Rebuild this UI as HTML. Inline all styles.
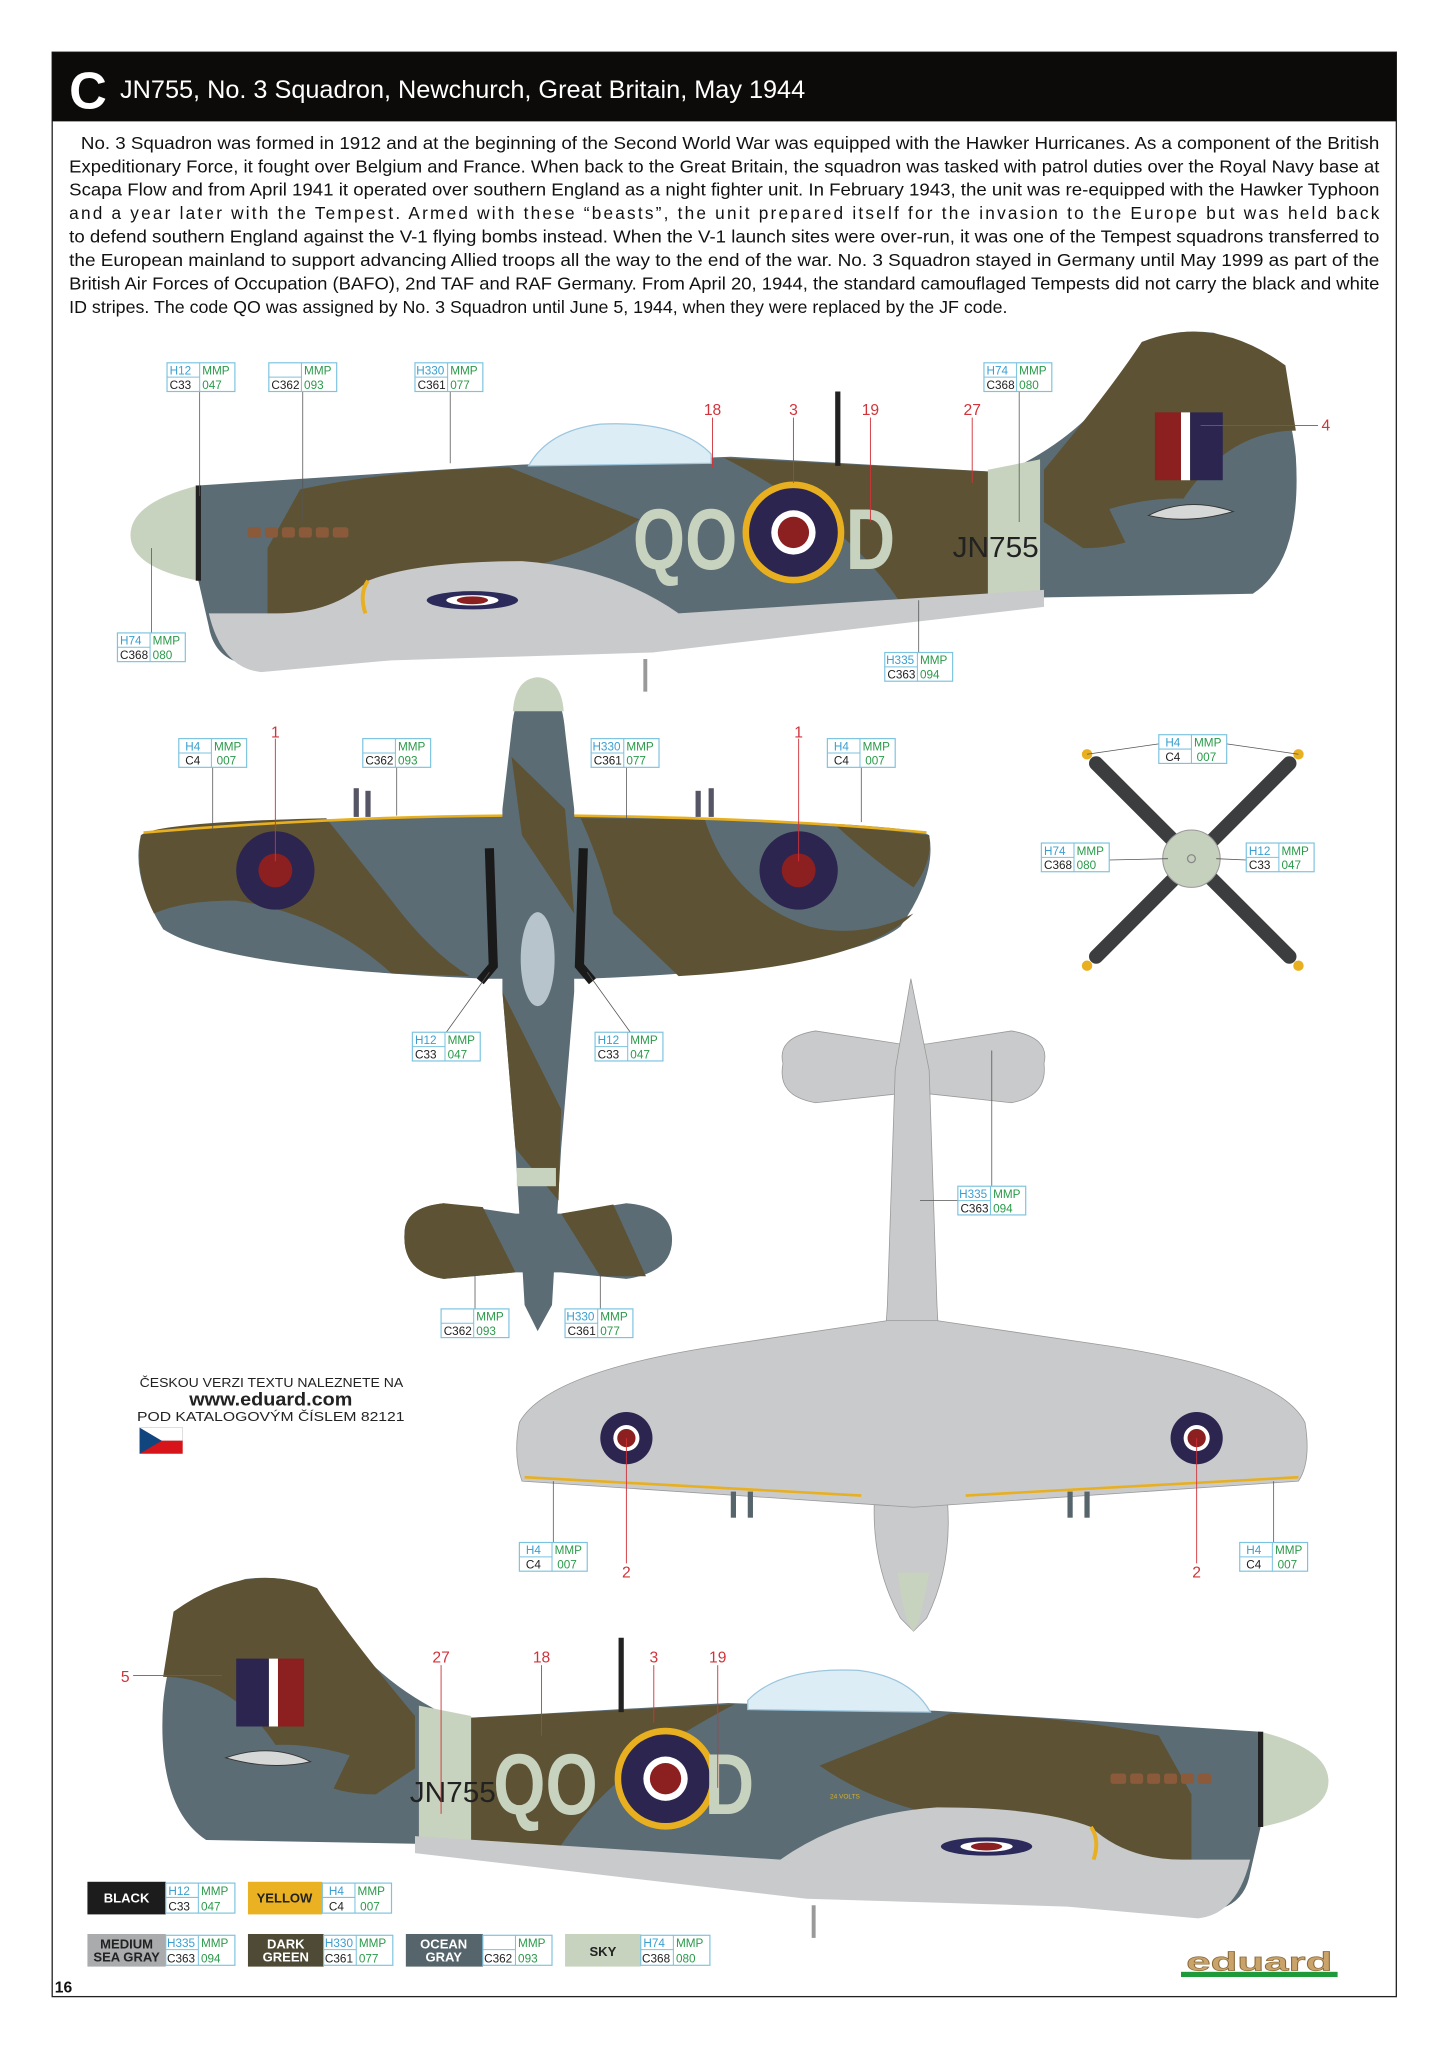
<!DOCTYPE html>
<html><head><meta charset="utf-8"><style>
html,body{margin:0;padding:0;background:#fff;width:1448px;height:2047px;overflow:hidden}
svg{display:block}
.cb{fill:#fff;stroke:#7cc3df;stroke-width:0.9}
.cl{stroke:#7cc3df;stroke-width:0.8}
.tb{fill:#3a9fd0;font:9px "Liberation Sans",sans-serif}
.tg{fill:#2a9a4a;font:9px "Liberation Sans",sans-serif}
.tk{fill:#222;font:9px "Liberation Sans",sans-serif}
.rn{fill:#d0333a;font:12px "Liberation Sans",sans-serif;text-anchor:middle}
.rl{stroke:#d0333a;stroke-width:0.7}
.ld{stroke:#555;stroke-width:0.6}
.p{font:13.2px "Liberation Sans",sans-serif;fill:#111}
.og{fill:#5b6c74}.dg{fill:#5d5233}.sky{fill:#c8d3bf}.lg{fill:#c9cacb}
</style></head><body>
<svg width="1448" height="2047" viewBox="0 0 1109.6 1568.6" xmlns="http://www.w3.org/2000/svg">
<rect x="40" y="40" width="1030" height="1490" fill="#fff" stroke="#222" stroke-width="1"/>
<rect x="40" y="40" width="1030" height="53" fill="#0d0b09"/>
<text x="53" y="83" fill="#fff" font-family="Liberation Sans,sans-serif" font-weight="bold" font-size="40">C</text>
<text x="92" y="75" fill="#fff" font-family="Liberation Sans,sans-serif" font-size="19" textLength="525" lengthAdjust="spacingAndGlyphs">JN755, No. 3 Squadron, Newchurch, Great Britain, May 1944</text>

<g class="p">
<text x="62" y="114" textLength="995" lengthAdjust="spacingAndGlyphs">No. 3 Squadron was formed in 1912 and at the beginning of the Second World War was equipped with the Hawker Hurricanes. As a component of the British</text>
<text x="53" y="132" textLength="1004" lengthAdjust="spacingAndGlyphs">Expeditionary Force, it fought over Belgium and France. When back to the Great Britain, the squadron was tasked with patrol duties over the Royal Navy base at</text>
<text x="53" y="150" textLength="1004" lengthAdjust="spacingAndGlyphs">Scapa Flow and from April 1941 it operated over southern England as a night fighter unit. In February 1943, the unit was re-equipped with the Hawker Typhoon</text>
<text x="53" y="168" textLength="1004" lengthAdjust="spacing">and a year later with the Tempest. Armed with these “beasts”, the unit prepared itself for the invasion to the Europe but was held back</text>
<text x="53" y="186" textLength="1004" lengthAdjust="spacingAndGlyphs">to defend southern England against the V-1 flying bombs instead. When the V-1 launch sites were over-run, it was one of the Tempest squadrons transferred to</text>
<text x="53" y="204" textLength="1004" lengthAdjust="spacingAndGlyphs">the European mainland to support advancing Allied troops all the way to the end of the war. No. 3 Squadron stayed in Germany until May 1999 as part of the</text>
<text x="53" y="222" textLength="1004" lengthAdjust="spacingAndGlyphs">British Air Forces of Occupation (BAFO), 2nd TAF and RAF Germany. From April 20, 1944, the standard camouflaged Tempests did not carry the black and white</text>
<text x="53" y="240" textLength="719" lengthAdjust="spacingAndGlyphs">ID stripes. The code QO was assigned by No. 3 Squadron until June 5, 1944, when they were replaced by the JF code.</text>
</g>

<defs>
<g id="side">
<path class="og" d="M152 372 L400 356 L560 350 L770 362 Q840 330 870 270 Q890 250 930 255 Q985 270 993 350 Q998 430 960 455 L790 458 L500 490 L300 500 L200 510 Q165 510 160 480 L152 445 Z"/>
<path class="dg" d="M800 360 Q850 300 875 262 Q930 240 985 280 L993 330 Q940 330 905 385 Q880 420 830 420 L800 400 Z"/>
<path class="dg" d="M230 375 Q300 360 390 358 L490 398 Q430 440 340 442 Q270 452 230 500 L205 505 L205 420 Z"/>
<path class="dg" d="M555 351 L770 362 L765 455 L690 462 Q650 400 555 351 Z"/>
<path class="og" d="M850 390 Q920 370 960 400 L958 450 L880 452 Z"/>
<path class="sky" d="M757 360 L797 352 L797 460 L757 463 Z"/>
<path class="sky" d="M152 372 Q100 385 100 410 Q100 435 152 445 Z"/>
<rect x="150" y="372" width="4" height="73" fill="#222"/>
<path class="lg" d="M160 470 Q170 512 200 515 L300 506 L500 500 L800 465 L800 452 L520 470 Q470 435 400 430 Q320 430 282 445 Q255 470 212 470 Z"/>
<path d="M282 445 Q275 455 280 470" stroke="#e8b020" stroke-width="3" fill="none"/>
<ellipse cx="362" cy="460" rx="35" ry="7" fill="#2b2a5a"/><ellipse cx="362" cy="460" rx="20" ry="4" fill="#fff"/><ellipse cx="362" cy="460" rx="12" ry="3" fill="#8c1f1f"/>
<path d="M405 357 Q420 330 460 325 Q520 322 545 348 L545 355 Z" fill="#dcedf5" stroke="#9cc6de" stroke-width="1"/>
<rect x="640" y="300" width="4" height="57" fill="#222"/>
<rect x="493" y="505" width="3" height="25" fill="#999"/>
<g fill="#8a5a3a"><rect x="190" y="404" width="10" height="8" rx="2"/><rect x="203" y="404" width="10" height="8" rx="2"/><rect x="216" y="404" width="10" height="8" rx="2"/><rect x="229" y="404" width="10" height="8" rx="2"/><rect x="242" y="404" width="10" height="8" rx="2"/><rect x="255" y="404" width="12" height="8" rx="2"/></g>
<path d="M880 395 Q910 380 945 392 Q910 402 880 395 Z" fill="#d6d8d8" stroke="#333" stroke-width="0.7"/>
<circle cx="608" cy="408" r="39" fill="#e8b020"/><circle cx="608" cy="408" r="34" fill="#2b2550"/><circle cx="608" cy="408" r="17" fill="#fff"/><circle cx="608" cy="408" r="12" fill="#8c1f1f"/>
<rect x="885" y="316" width="20" height="52" fill="#8c1f1f"/><rect x="905" y="316" width="7" height="52" fill="#fff"/><rect x="912" y="316" width="25" height="52" fill="#2b2550"/>
</g>
</defs>
<use href="#side"/>
<g transform="translate(1118,955) scale(-1,1)"><use href="#side"/></g>

<g font-family="Liberation Sans,sans-serif" font-weight="bold" fill="#c8d3bf" font-size="66">
<text x="485" y="436" textLength="80" lengthAdjust="spacingAndGlyphs">QO</text><text x="648" y="436" textLength="38" lengthAdjust="spacingAndGlyphs">D</text>
<text x="378" y="1390" textLength="80" lengthAdjust="spacingAndGlyphs">QO</text><text x="540" y="1390" textLength="38" lengthAdjust="spacingAndGlyphs">D</text>
</g>
<text x="730" y="427" font-family="Liberation Sans,sans-serif" font-size="22" fill="#222" textLength="66" lengthAdjust="spacingAndGlyphs">JN755</text>
<text x="314" y="1381" font-family="Liberation Sans,sans-serif" font-size="22" fill="#222" textLength="66" lengthAdjust="spacingAndGlyphs">JN755</text>
<text x="636" y="1378" font-family="Liberation Sans,sans-serif" font-size="5" fill="#d8b020">24 VOLTS</text>

<!-- top view -->
<path class="og" d="M108 640 Q120 630 380 625 L445 625 Q700 630 712 640 Q718 670 690 710 Q650 742 450 750 L375 750 Q170 742 125 712 Q100 672 108 640 Z"/>
<path class="dg" d="M108 640 Q120 630 250 627 L300 690 Q330 730 360 748 L300 746 Q250 700 180 690 Q140 690 118 700 Q103 670 108 640 Z"/>
<path class="dg" d="M445 627 L540 628 Q560 690 620 710 Q660 720 700 700 Q660 740 520 748 L470 700 Q460 660 445 627 Z"/>
<path class="dg" d="M640 632 L712 640 Q715 660 700 680 Q670 660 640 632 Z"/>
<path d="M110 638 Q250 626 385 625 M440 625 Q600 627 710 638" stroke="#e8b020" stroke-width="2" fill="none"/>
<path class="og" d="M412 522 Q395 525 392 560 L385 620 L385 760 L395 880 L402 1000 L412 1020 L423 1000 L430 880 L440 760 L440 620 L433 560 Q430 525 412 522 Z"/>
<path class="dg" d="M392 580 L433 620 L440 700 L400 640 Z M385 760 L430 850 L428 920 L395 880 Z"/>
<path class="sky" d="M393 545 Q395 520 412 519 Q430 520 432 545 Z"/>
<rect x="396" y="895" width="30" height="14" class="sky"/>
<path class="og" d="M310 945 Q310 925 340 922 L395 930 L430 930 L480 922 Q515 925 515 950 Q515 975 480 980 L430 975 L395 975 L340 980 Q308 975 310 945 Z"/>
<path class="dg" d="M310 945 Q310 925 340 922 L370 925 L395 975 L340 980 Q308 975 310 945 Z M430 930 L470 923 L495 978 L460 978 Z"/>
<path d="M375 650 L378 740 L368 752 M447 650 L444 740 L454 752" stroke="#1a1a1a" stroke-width="7" fill="none"/>
<ellipse cx="412" cy="735" rx="13" ry="36" fill="#b8c4cc"/>
<circle cx="211" cy="667" r="30" fill="#2b2550"/><circle cx="211" cy="667" r="13" fill="#8c1f1f"/>
<circle cx="612" cy="667" r="30" fill="#2b2550"/><circle cx="612" cy="667" r="13" fill="#8c1f1f"/>
<rect x="271" y="604" width="4" height="22" fill="#556"/><rect x="280" y="606" width="4" height="20" fill="#556"/><rect x="533" y="606" width="4" height="20" fill="#556"/><rect x="543" y="604" width="4" height="22" fill="#556"/>

<!-- propeller -->
<g stroke="#3b3d3f" stroke-width="11" stroke-linecap="round"><line x1="840" y1="585" x2="988" y2="733"/><line x1="988" y1="585" x2="840" y2="733"/></g>
<g fill="#e8b020"><circle cx="833" cy="578" r="4"/><circle cx="995" cy="578" r="4"/><circle cx="833" cy="740" r="4"/><circle cx="995" cy="740" r="4"/></g>
<circle cx="913" cy="658" r="22" fill="#c5d0bd" stroke="#999" stroke-width="0.8"/><circle cx="913" cy="658" r="3" fill="none" stroke="#888"/>

<!-- bottom view -->
<path class="lg" d="M600 815 Q595 795 625 790 L690 800 L710 800 L775 790 Q805 795 800 815 Q803 840 775 845 L710 838 L690 838 L625 845 Q595 840 600 815Z" stroke="#999" stroke-width="0.6"/>
<path class="lg" d="M698 750 L686 820 L680 1000 L670 1150 Q668 1200 690 1240 L700 1250 L710 1240 Q730 1200 726 1150 L718 1000 L712 820 Z" stroke="#999" stroke-width="0.6"/>
<path class="lg" d="M398 1090 Q420 1050 560 1030 L680 1012 L718 1012 L840 1030 Q980 1050 1000 1090 Q1005 1120 995 1135 L700 1155 L400 1135 Q393 1115 398 1090Z" stroke="#999" stroke-width="0.6"/>
<path d="M402 1132 L660 1146 M740 1146 L995 1132" stroke="#e8b020" stroke-width="2"/>
<path class="sky" d="M688 1205 L712 1205 Q705 1245 700 1250 Q693 1245 688 1205Z"/>
<circle cx="480" cy="1102" r="20" fill="#2b2550"/><circle cx="480" cy="1102" r="10" fill="#fff"/><circle cx="480" cy="1102" r="7" fill="#8c1f1f"/>
<circle cx="917" cy="1102" r="20" fill="#2b2550"/><circle cx="917" cy="1102" r="10" fill="#fff"/><circle cx="917" cy="1102" r="7" fill="#8c1f1f"/>
<g fill="#56656b"><rect x="560" y="1143" width="4" height="20"/><rect x="573" y="1143" width="4" height="20"/><rect x="818" y="1143" width="4" height="20"/><rect x="831" y="1143" width="4" height="20"/></g>

<!-- leader lines -->
<g class="ld">
<line x1="153" y1="300" x2="153" y2="380"/><line x1="232" y1="300" x2="232" y2="400"/><line x1="345" y1="300" x2="345" y2="355"/><line x1="781" y1="300" x2="781" y2="400"/><line x1="116" y1="485" x2="116" y2="420"/><line x1="704" y1="500" x2="704" y2="460"/>
<line x1="163" y1="588" x2="163" y2="635"/><line x1="304" y1="588" x2="304" y2="625"/><line x1="480" y1="588" x2="480" y2="628"/><line x1="660" y1="588" x2="660" y2="630"/>
<line x1="850" y1="659" x2="895" y2="658"/><line x1="955" y1="659" x2="932" y2="658"/><line x1="888" y1="570" x2="833" y2="578"/><line x1="940" y1="570" x2="995" y2="578"/>
<line x1="342" y1="791" x2="375" y2="745"/><line x1="483" y1="791" x2="450" y2="745"/><line x1="760" y1="909" x2="760" y2="805"/><line x1="734" y1="920" x2="705" y2="920"/>
<line x1="364" y1="1003" x2="364" y2="975"/><line x1="460" y1="1003" x2="460" y2="975"/><line x1="424" y1="1182" x2="424" y2="1135"/><line x1="976" y1="1182" x2="976" y2="1135"/>
</g>
<g class="rl">
<line x1="546" y1="320" x2="546" y2="358"/><line x1="608" y1="320" x2="608" y2="370"/><line x1="667" y1="320" x2="667" y2="400"/><line x1="745" y1="320" x2="745" y2="370"/><line x1="920" y1="326" x2="1010" y2="326"/>
<line x1="211" y1="566" x2="211" y2="660"/><line x1="612" y1="566" x2="612" y2="660"/><line x1="480" y1="1102" x2="480" y2="1198"/><line x1="917" y1="1102" x2="917" y2="1198"/>
<line x1="102" y1="1284" x2="170" y2="1284"/><line x1="338" y1="1276" x2="338" y2="1390"/><line x1="415" y1="1276" x2="415" y2="1330"/><line x1="501" y1="1276" x2="501" y2="1320"/><line x1="550" y1="1276" x2="550" y2="1370"/>
</g>
<g class="rn">
<text x="546" y="318">18</text><text x="608" y="318">3</text><text x="667" y="318">19</text><text x="745" y="318">27</text><text x="1016" y="330">4</text>
<text x="211" y="565">1</text><text x="612" y="565">1</text><text x="480" y="1209">2</text><text x="917" y="1209">2</text>
<text x="96" y="1289">5</text><text x="338" y="1274">27</text><text x="415" y="1274">18</text><text x="501" y="1274">3</text><text x="550" y="1274">19</text>
</g>

<!-- callouts -->
<g transform="translate(128,278)"><rect width="52" height="22" class="cb"/><line x1="25" y1="0" x2="25" y2="22" class="cl"/><line x1="0" y1="11" x2="25" y2="11" class="cl"/><text x="2" y="9" class="tb">H12</text><text x="27" y="9" class="tg">MMP</text><text x="2" y="20" class="tk">C33</text><text x="27" y="20" class="tg">047</text></g>
<g transform="translate(206,278)"><rect width="52" height="22" class="cb"/><line x1="25" y1="0" x2="25" y2="22" class="cl"/><line x1="0" y1="11" x2="25" y2="11" class="cl"/><text x="27" y="9" class="tg">MMP</text><text x="2" y="20" class="tk">C362</text><text x="27" y="20" class="tg">093</text></g>
<g transform="translate(318,278)"><rect width="52" height="22" class="cb"/><line x1="25" y1="0" x2="25" y2="22" class="cl"/><line x1="0" y1="11" x2="25" y2="11" class="cl"/><text x="1" y="9" class="tb">H330</text><text x="27" y="9" class="tg">MMP</text><text x="2" y="20" class="tk">C361</text><text x="27" y="20" class="tg">077</text></g>
<g transform="translate(754,278)"><rect width="52" height="22" class="cb"/><line x1="25" y1="0" x2="25" y2="22" class="cl"/><line x1="0" y1="11" x2="25" y2="11" class="cl"/><text x="2" y="9" class="tb">H74</text><text x="27" y="9" class="tg">MMP</text><text x="2" y="20" class="tk">C368</text><text x="27" y="20" class="tg">080</text></g>
<g transform="translate(90,485)"><rect width="52" height="22" class="cb"/><line x1="25" y1="0" x2="25" y2="22" class="cl"/><line x1="0" y1="11" x2="25" y2="11" class="cl"/><text x="2" y="9" class="tb">H74</text><text x="27" y="9" class="tg">MMP</text><text x="2" y="20" class="tk">C368</text><text x="27" y="20" class="tg">080</text></g>
<g transform="translate(678,500)"><rect width="52" height="22" class="cb"/><line x1="25" y1="0" x2="25" y2="22" class="cl"/><line x1="0" y1="11" x2="25" y2="11" class="cl"/><text x="1" y="9" class="tb">H335</text><text x="27" y="9" class="tg">MMP</text><text x="2" y="20" class="tk">C363</text><text x="27" y="20" class="tg">094</text></g>
<g transform="translate(137,566)"><rect width="52" height="22" class="cb"/><line x1="25" y1="0" x2="25" y2="22" class="cl"/><line x1="0" y1="11" x2="25" y2="11" class="cl"/><text x="5" y="9" class="tb">H4</text><text x="27" y="9" class="tg">MMP</text><text x="5" y="20" class="tk">C4</text><text x="29" y="20" class="tg">007</text></g>
<g transform="translate(278,566)"><rect width="52" height="22" class="cb"/><line x1="25" y1="0" x2="25" y2="22" class="cl"/><line x1="0" y1="11" x2="25" y2="11" class="cl"/><text x="27" y="9" class="tg">MMP</text><text x="2" y="20" class="tk">C362</text><text x="27" y="20" class="tg">093</text></g>
<g transform="translate(453,566)"><rect width="52" height="22" class="cb"/><line x1="25" y1="0" x2="25" y2="22" class="cl"/><line x1="0" y1="11" x2="25" y2="11" class="cl"/><text x="1" y="9" class="tb">H330</text><text x="27" y="9" class="tg">MMP</text><text x="2" y="20" class="tk">C361</text><text x="27" y="20" class="tg">077</text></g>
<g transform="translate(634,566)"><rect width="52" height="22" class="cb"/><line x1="25" y1="0" x2="25" y2="22" class="cl"/><line x1="0" y1="11" x2="25" y2="11" class="cl"/><text x="5" y="9" class="tb">H4</text><text x="27" y="9" class="tg">MMP</text><text x="5" y="20" class="tk">C4</text><text x="29" y="20" class="tg">007</text></g>
<g transform="translate(888,563)"><rect width="52" height="22" class="cb"/><line x1="25" y1="0" x2="25" y2="22" class="cl"/><line x1="0" y1="11" x2="25" y2="11" class="cl"/><text x="5" y="9" class="tb">H4</text><text x="27" y="9" class="tg">MMP</text><text x="5" y="20" class="tk">C4</text><text x="29" y="20" class="tg">007</text></g>
<g transform="translate(798,646)"><rect width="52" height="22" class="cb"/><line x1="25" y1="0" x2="25" y2="22" class="cl"/><line x1="0" y1="11" x2="25" y2="11" class="cl"/><text x="2" y="9" class="tb">H74</text><text x="27" y="9" class="tg">MMP</text><text x="2" y="20" class="tk">C368</text><text x="27" y="20" class="tg">080</text></g>
<g transform="translate(955,646)"><rect width="52" height="22" class="cb"/><line x1="25" y1="0" x2="25" y2="22" class="cl"/><line x1="0" y1="11" x2="25" y2="11" class="cl"/><text x="2" y="9" class="tb">H12</text><text x="27" y="9" class="tg">MMP</text><text x="2" y="20" class="tk">C33</text><text x="27" y="20" class="tg">047</text></g>
<g transform="translate(316,791)"><rect width="52" height="22" class="cb"/><line x1="25" y1="0" x2="25" y2="22" class="cl"/><line x1="0" y1="11" x2="25" y2="11" class="cl"/><text x="2" y="9" class="tb">H12</text><text x="27" y="9" class="tg">MMP</text><text x="2" y="20" class="tk">C33</text><text x="27" y="20" class="tg">047</text></g>
<g transform="translate(456,791)"><rect width="52" height="22" class="cb"/><line x1="25" y1="0" x2="25" y2="22" class="cl"/><line x1="0" y1="11" x2="25" y2="11" class="cl"/><text x="2" y="9" class="tb">H12</text><text x="27" y="9" class="tg">MMP</text><text x="2" y="20" class="tk">C33</text><text x="27" y="20" class="tg">047</text></g>
<g transform="translate(734,909)"><rect width="52" height="22" class="cb"/><line x1="25" y1="0" x2="25" y2="22" class="cl"/><line x1="0" y1="11" x2="25" y2="11" class="cl"/><text x="1" y="9" class="tb">H335</text><text x="27" y="9" class="tg">MMP</text><text x="2" y="20" class="tk">C363</text><text x="27" y="20" class="tg">094</text></g>
<g transform="translate(338,1003)"><rect width="52" height="22" class="cb"/><line x1="25" y1="0" x2="25" y2="22" class="cl"/><line x1="0" y1="11" x2="25" y2="11" class="cl"/><text x="27" y="9" class="tg">MMP</text><text x="2" y="20" class="tk">C362</text><text x="27" y="20" class="tg">093</text></g>
<g transform="translate(433,1003)"><rect width="52" height="22" class="cb"/><line x1="25" y1="0" x2="25" y2="22" class="cl"/><line x1="0" y1="11" x2="25" y2="11" class="cl"/><text x="1" y="9" class="tb">H330</text><text x="27" y="9" class="tg">MMP</text><text x="2" y="20" class="tk">C361</text><text x="27" y="20" class="tg">077</text></g>
<g transform="translate(398,1182)"><rect width="52" height="22" class="cb"/><line x1="25" y1="0" x2="25" y2="22" class="cl"/><line x1="0" y1="11" x2="25" y2="11" class="cl"/><text x="5" y="9" class="tb">H4</text><text x="27" y="9" class="tg">MMP</text><text x="5" y="20" class="tk">C4</text><text x="29" y="20" class="tg">007</text></g>
<g transform="translate(950,1182)"><rect width="52" height="22" class="cb"/><line x1="25" y1="0" x2="25" y2="22" class="cl"/><line x1="0" y1="11" x2="25" y2="11" class="cl"/><text x="5" y="9" class="tb">H4</text><text x="27" y="9" class="tg">MMP</text><text x="5" y="20" class="tk">C4</text><text x="29" y="20" class="tg">007</text></g>

<!-- czech note -->
<g font-family="Liberation Sans,sans-serif" fill="#222">
<text x="107" y="1063" font-size="10" textLength="202" lengthAdjust="spacingAndGlyphs">ČESKOU VERZI TEXTU NALEZNETE NA</text>
<text x="145" y="1077" font-size="14" font-weight="bold" textLength="125" lengthAdjust="spacingAndGlyphs">www.eduard.com</text>
<text x="105" y="1089" font-size="10" textLength="205" lengthAdjust="spacingAndGlyphs">POD KATALOGOVÝM ČÍSLEM 82121</text>
</g>
<rect x="107" y="1094" width="33" height="10" fill="#fff" stroke="#ccc" stroke-width="0.5"/><rect x="107" y="1104" width="33" height="10" fill="#d7141a"/><path d="M107 1094 L124 1104 L107 1114 Z" fill="#11457e"/>

<!-- legend -->
<g font-family="Liberation Sans,sans-serif" font-weight="bold" font-size="10" text-anchor="middle">
<rect x="67" y="1442" width="60" height="25" fill="#1c1c1c"/><text x="97" y="1458" fill="#fff">BLACK</text>
<rect x="190" y="1442" width="57" height="25" fill="#eab223"/><text x="218" y="1458" fill="#222">YELLOW</text>
<rect x="67" y="1482" width="60" height="25" fill="#a9abac"/><text x="97" y="1493" fill="#222">MEDIUM</text><text x="97" y="1503" fill="#222">SEA GRAY</text>
<rect x="190" y="1482" width="58" height="25" fill="#4f4a35"/><text x="219" y="1493" fill="#fff">DARK</text><text x="219" y="1503" fill="#fff">GREEN</text>
<rect x="311" y="1482" width="59" height="25" fill="#56656b"/><text x="340" y="1493" fill="#fff">OCEAN</text><text x="340" y="1503" fill="#fff">GRAY</text>
<rect x="433" y="1482" width="58" height="25" fill="#c8d3bf"/><text x="462" y="1499" fill="#222">SKY</text>
</g>
<g transform="translate(127,1443)"><rect width="53" height="23" class="cb"/><line x1="25" y1="0" x2="25" y2="23" class="cl"/><line x1="0" y1="11" x2="25" y2="11" class="cl"/><text x="2" y="9" class="tb">H12</text><text x="27" y="9" class="tg">MMP</text><text x="2" y="21" class="tk">C33</text><text x="27" y="21" class="tg">047</text></g>
<g transform="translate(247,1443)"><rect width="53" height="23" class="cb"/><line x1="25" y1="0" x2="25" y2="23" class="cl"/><line x1="0" y1="11" x2="25" y2="11" class="cl"/><text x="5" y="9" class="tb">H4</text><text x="27" y="9" class="tg">MMP</text><text x="5" y="21" class="tk">C4</text><text x="29" y="21" class="tg">007</text></g>
<g transform="translate(127,1483)"><rect width="53" height="23" class="cb"/><line x1="25" y1="0" x2="25" y2="23" class="cl"/><line x1="0" y1="11" x2="25" y2="11" class="cl"/><text x="1" y="9" class="tb">H335</text><text x="27" y="9" class="tg">MMP</text><text x="1" y="21" class="tk">C363</text><text x="27" y="21" class="tg">094</text></g>
<g transform="translate(248,1483)"><rect width="53" height="23" class="cb"/><line x1="25" y1="0" x2="25" y2="23" class="cl"/><line x1="0" y1="11" x2="25" y2="11" class="cl"/><text x="1" y="9" class="tb">H330</text><text x="27" y="9" class="tg">MMP</text><text x="1" y="21" class="tk">C361</text><text x="27" y="21" class="tg">077</text></g>
<g transform="translate(370,1483)"><rect width="53" height="23" class="cb"/><line x1="25" y1="0" x2="25" y2="23" class="cl"/><line x1="0" y1="11" x2="25" y2="11" class="cl"/><text x="27" y="9" class="tg">MMP</text><text x="1" y="21" class="tk">C362</text><text x="27" y="21" class="tg">093</text></g>
<g transform="translate(491,1483)"><rect width="53" height="23" class="cb"/><line x1="25" y1="0" x2="25" y2="23" class="cl"/><line x1="0" y1="11" x2="25" y2="11" class="cl"/><text x="2" y="9" class="tb">H74</text><text x="27" y="9" class="tg">MMP</text><text x="1" y="21" class="tk">C368</text><text x="27" y="21" class="tg">080</text></g>

<rect x="905" y="1511" width="120" height="4" fill="#1f9a3a"/>
<text x="965" y="1510" font-family="Liberation Sans,sans-serif" font-weight="bold" font-size="20" fill="#c9a36a" stroke="#8a6a3a" stroke-width="0.5" text-anchor="middle" textLength="112" lengthAdjust="spacingAndGlyphs">eduard</text>
<text x="42" y="1527" font-family="Liberation Sans,sans-serif" font-weight="bold" font-size="12" fill="#111">16</text>
</svg>
</body></html>
